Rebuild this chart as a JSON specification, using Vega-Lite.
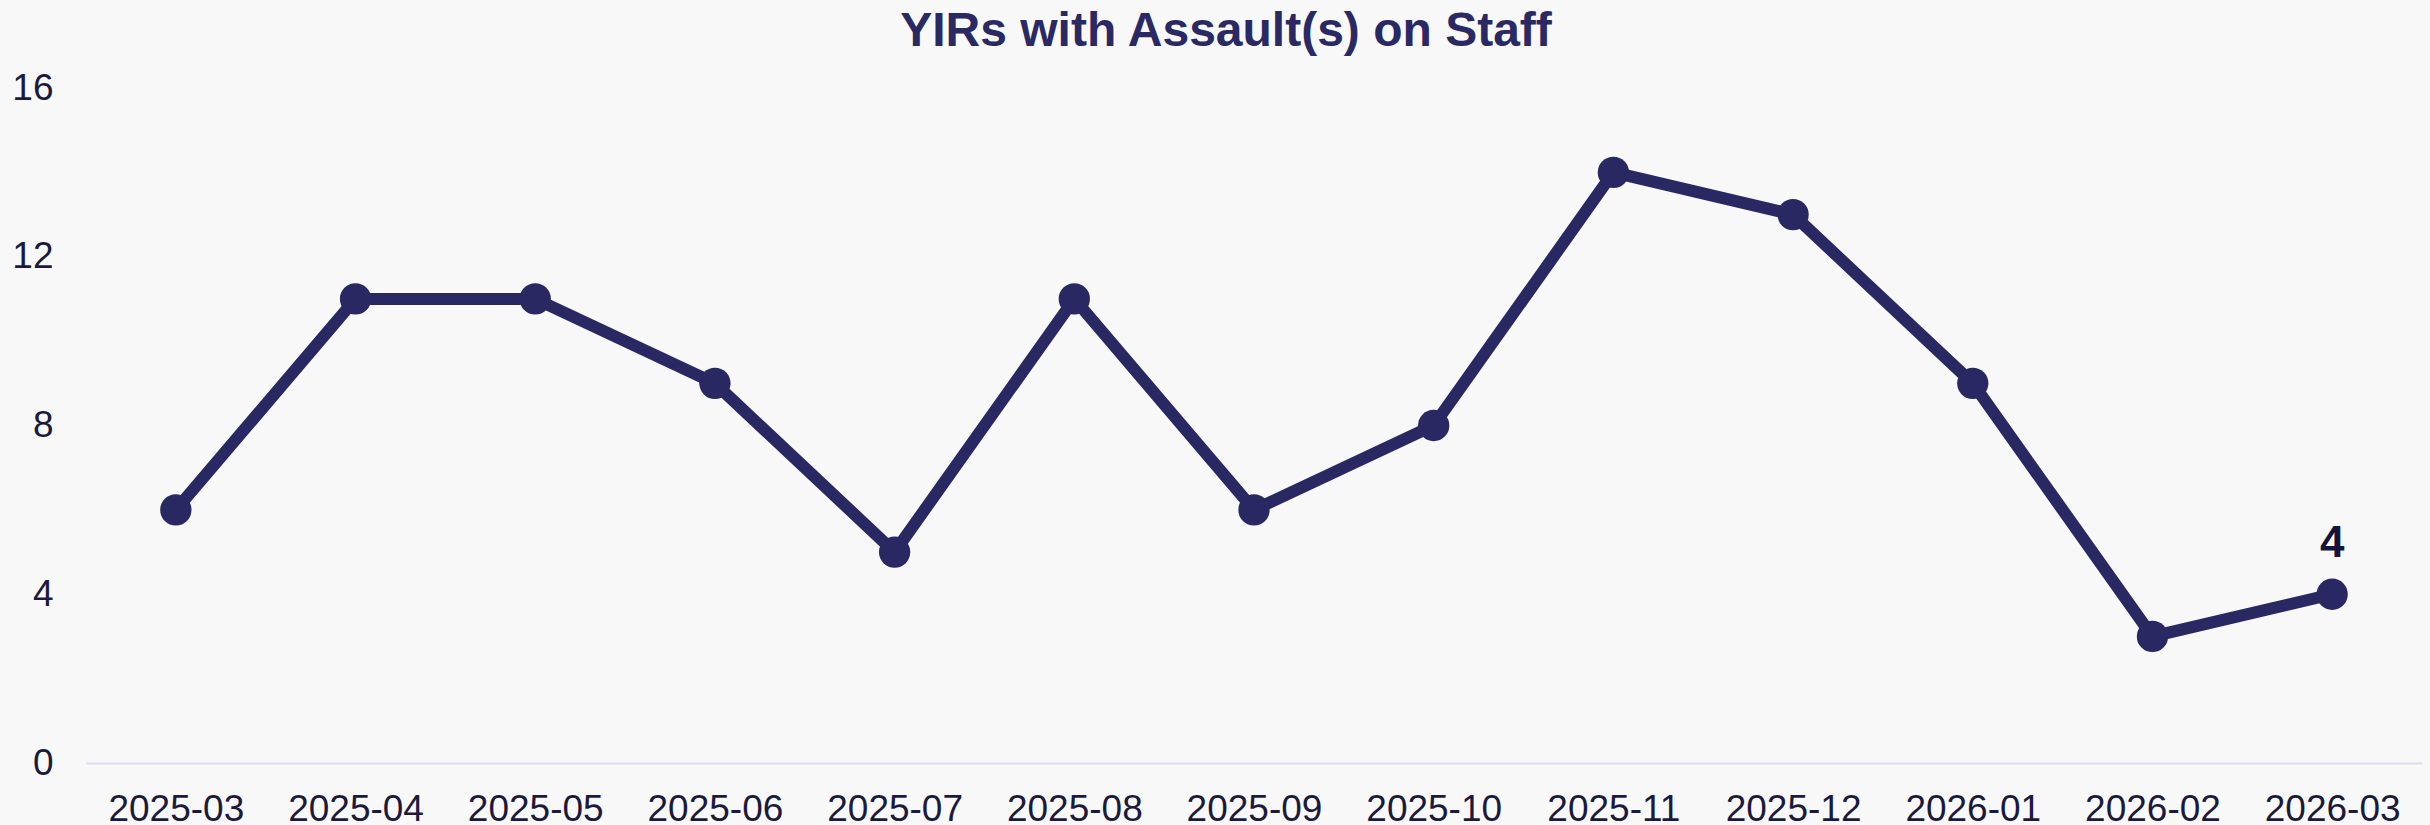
{
  "$schema": "https://vega.github.io/schema/vega-lite/v6.json",
  "width": 2336,
  "height": 675,
  "autosize": {"type": "none"},
  "padding": {"left": 86, "top": 88, "right": 8, "bottom": 62},
  "background": "#f8f8f8",
  "title": {
    "text": "YIRs with Assault(s) on Staff",
    "font": "Liberation Sans",
    "fontSize": 48,
    "fontWeight": "bold",
    "color": "#2b2963",
    "anchor": "middle",
    "dx": -28,
    "baseline": "bottom",
    "offset": -35
  },
  "data": {
    "values": [
      {"month": "2025-03", "count": 6},
      {"month": "2025-04", "count": 11},
      {"month": "2025-05", "count": 11},
      {"month": "2025-06", "count": 9},
      {"month": "2025-07", "count": 5},
      {"month": "2025-08", "count": 11},
      {"month": "2025-09", "count": 6},
      {"month": "2025-10", "count": 8},
      {"month": "2025-11", "count": 14},
      {"month": "2025-12", "count": 13},
      {"month": "2026-01", "count": 9},
      {"month": "2026-02", "count": 3},
      {"month": "2026-03", "count": 4}
    ]
  },
  "encoding": {
    "x": {
      "field": "month",
      "type": "ordinal",
      "sort": null,
      "scale": {"type": "point", "padding": 0.5},
      "axis": {
        "title": null,
        "labelAngle": 0,
        "ticks": false,
        "grid": false,
        "domainColor": "#dcdcf0",
        "domainWidth": 2,
        "labelFont": "Liberation Sans",
        "labelFontSize": 37,
        "labelColor": "#1c1a3c",
        "labelPadding": 28
      }
    },
    "y": {
      "field": "count",
      "type": "quantitative",
      "scale": {"domain": [0, 16], "nice": false},
      "axis": {
        "title": null,
        "values": [0, 4, 8, 12, 16],
        "ticks": false,
        "grid": false,
        "domain": false,
        "labelFont": "Liberation Sans",
        "labelFontSize": 37,
        "labelColor": "#1c1a3c",
        "labelPadding": 33
      }
    }
  },
  "layer": [
    {
      "mark": {"type": "line", "color": "#2a2862", "strokeWidth": 12, "point": {"filled": true, "size": 980, "color": "#2a2862", "opacity": 1}}
    },
    {
      "transform": [{"filter": "datum.month == '2026-03'"}],
      "mark": {"type": "text", "font": "Liberation Sans", "fontSize": 44, "fontWeight": "bold", "color": "#15143a", "baseline": "alphabetic", "align": "center", "dy": -37},
      "encoding": {"text": {"field": "count", "type": "quantitative"}}
    }
  ],
  "config": {"view": {"stroke": null}}
}
